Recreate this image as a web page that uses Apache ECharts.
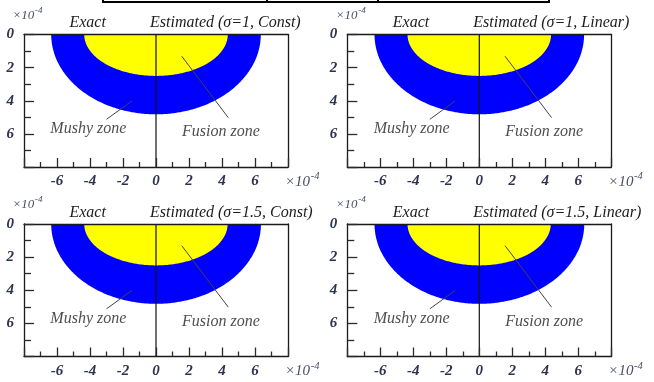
<!DOCTYPE html>
<html>
<head>
<meta charset="utf-8">
<script src="https://cdn.jsdelivr.net/npm/echarts@6/dist/echarts.min.js"></script>
<style>
  html, body { margin: 0; padding: 0; background: #fff; }
  #chart { width: 654px; height: 382px; }
</style>
</head>
<body>
<div id="chart"></div>
<script>
// Tick labels shown on each axis (units of 1e-4 m)
const xTickValues = [-6, -4, -2, 0, 2, 4, 6];
const yTickValues = [0, 2, 4, 6];
const scaleBase = '×10';
const scaleExponent = '-4';

// Panel headings
const leftHeading = 'Exact';
const rightHeadings = [
  'Estimated (σ=1, Const)',
  'Estimated (σ=1, Linear)',
  'Estimated (σ=1.5, Const)',
  'Estimated (σ=1.5, Linear)'
];

// Zone outlines as semi-ellipses: [half-width, depth] in 1e-4 m
const exactFusion = [4.35, 2.5];
const exactMushy = [6.35, 4.82];
const estimatedFusion = [[4.35, 2.5], [4.35, 2.5], [4.34, 2.5], [4.33, 2.5]];
const estimatedMushy = [[6.35, 4.82], [6.35, 4.82], [6.36, 4.82], [6.36, 4.82]];

const zoneNames = ['Mushy zone', 'Fusion zone'];

// ---- layout ----
const PLOT_W = 264, PLOT_H = 132.5;
const origins = [[24, 34.5], [347.3, 34.5], [24, 224], [347.3, 224]];
const FONT = 'Liberation Serif';
const MUSHY_COLOR = '#0000ff';
const FUSION_COLOR = '#ffff00';
const TICK_TEXT = '#2c3350';
const SCALE_TEXT = '#4a4f66';

function halfEllipse(params, api) {
  const a = api.value(0), b = api.value(1), side = api.value(2);
  const pts = [api.coord([0, 0])];
  const N = 120;
  for (let i = 0; i <= N; i++) {
    const t = Math.PI / 2 * i / N;
    pts.push(api.coord([side * a * Math.cos(t), b * Math.sin(t)]));
  }
  return { type: 'polygon', shape: { points: pts }, style: { fill: api.visual('color') } };
}

// "×10" with a raised exponent
function scaleText(x, y, size) {
  return {
    type: 'group', x: x, y: y,
    children: [
      { type: 'text', x: 0, y: 0,
        style: { text: scaleBase, fontFamily: FONT, fontStyle: 'italic', fontSize: size, fill: SCALE_TEXT,
                 align: 'left', verticalAlign: 'middle' } },
      { type: 'text', x: size * 1.72, y: -size * 0.38,
        style: { text: scaleExponent, fontFamily: FONT, fontStyle: 'italic', fontSize: size * 0.7, fill: SCALE_TEXT,
                 align: 'left', verticalAlign: 'middle' } }
    ]
  };
}

const grid = [], xAxis = [], yAxis = [], series = [], graphic = [];

const labelFont = { fontFamily: FONT, fontStyle: 'italic', fontWeight: 'bold', fontSize: 15, color: TICK_TEXT };
const borderLine = { color: '#1a1a1a', width: 1.3 };
const tickLine = { color: '#2a2a2a', width: 1.3 };

origins.forEach(([left, top], p) => {
  grid.push({ left: left, top: top, width: PLOT_W, height: PLOT_H, containLabel: false });
  const xi = xAxis.length, yi = yAxis.length;

  // bottom axis with ticks
  xAxis.push({
    type: 'value', gridIndex: p, min: -8, max: 8, interval: 2, position: 'bottom', z: 5,
    axisLine: { show: true, onZero: false, lineStyle: borderLine },
    axisTick: { show: true, inside: true, length: 9, lineStyle: tickLine },
    minorTick: { show: true, splitNumber: 2, length: 5, lineStyle: tickLine },
    splitLine: { show: false },
    axisLabel: Object.assign({ margin: 7, formatter: v => xTickValues.includes(v) ? String(v) : '' }, labelFont)
  });
  // top border
  xAxis.push({
    type: 'value', gridIndex: p, min: -8, max: 8, position: 'top', z: 5,
    axisLine: { show: true, onZero: false, lineStyle: borderLine },
    axisTick: { show: false }, axisLabel: { show: false }, splitLine: { show: false }
  });
  // left axis with ticks (depth increases downward)
  yAxis.push({
    type: 'value', gridIndex: p, min: 0, max: 8, interval: 2, inverse: true, position: 'left', z: 5,
    axisLine: { show: true, onZero: false, lineStyle: borderLine },
    axisTick: { show: true, inside: true, length: 10, lineStyle: tickLine },
    minorTick: { show: true, splitNumber: 2, length: 7, lineStyle: tickLine },
    splitLine: { show: false },
    axisLabel: Object.assign({ margin: 10, formatter: v => yTickValues.includes(v) ? String(v) : '' }, labelFont)
  });
  // right border
  yAxis.push({
    type: 'value', gridIndex: p, min: 0, max: 8, inverse: true, position: 'right', z: 5,
    axisLine: { show: true, onZero: false, lineStyle: borderLine },
    axisTick: { show: false }, axisLabel: { show: false }, splitLine: { show: false }
  });

  const axes = { xAxisIndex: xi, yAxisIndex: yi };

  // mushy zone (left half exact, right half estimated)
  series.push(Object.assign({
    type: 'custom', renderItem: halfEllipse, itemStyle: { color: MUSHY_COLOR }, z: 1, silent: true,
    data: [[exactMushy[0], exactMushy[1], -1], [estimatedMushy[p][0], estimatedMushy[p][1], 1]]
  }, axes));
  // fusion zone
  series.push(Object.assign({
    type: 'custom', renderItem: halfEllipse, itemStyle: { color: FUSION_COLOR }, z: 2, silent: true,
    data: [[exactFusion[0], exactFusion[1], -1], [estimatedFusion[p][0], estimatedFusion[p][1], 1]]
  }, axes));
  // centre divider between exact and estimated halves
  series.push(Object.assign({
    type: 'line', z: 3, symbol: 'none', silent: true,
    lineStyle: { color: '#111', width: 1.2 },
    data: [[0, 0], [0, 8]]
  }, axes));
  // leader lines to zone labels
  series.push(Object.assign({
    type: 'line', z: 3, symbol: 'none', silent: true,
    lineStyle: { color: '#444', width: 1 },
    data: [[-3.0, 5.12], [-1.47, 4.02]]
  }, axes));
  series.push(Object.assign({
    type: 'line', z: 3, symbol: 'none', silent: true,
    lineStyle: { color: '#444', width: 1 },
    data: [[1.56, 1.31], [4.38, 5.02]]
  }, axes));
  // zone labels
  series.push(Object.assign({
    type: 'scatter', z: 4, symbolSize: 0, silent: true,
    label: {
      show: true, position: 'inside',
      formatter: d => d.data.name,
      fontFamily: FONT, fontStyle: 'italic', fontSize: 16, color: '#222'
    },
    data: [{ name: zoneNames[0], value: [-4.1, 5.72] }, { name: zoneNames[1], value: [3.93, 5.88] }]
  }, axes));

  // headings and scale factors
  graphic.push(scaleText(left - 11.5, top - 19, 13));
  graphic.push({
    type: 'text', x: left + 63.7, y: top - 11.5,
    style: { text: leftHeading, fontFamily: FONT, fontStyle: 'italic', fontSize: 16, fill: '#1c1c1c',
             align: 'center', verticalAlign: 'middle' }
  });
  graphic.push({
    type: 'text', x: left + 126, y: top - 11.5,
    style: { text: rightHeadings[p], fontFamily: FONT, fontStyle: 'italic', fontSize: 16, fill: '#1c1c1c',
             align: 'left', verticalAlign: 'middle' }
  });
  graphic.push(scaleText(left + 261, top + 147.5, 15));
});

// table rule across the top edge
graphic.push({ type: 'line', shape: { x1: 103, y1: 2, x2: 549, y2: 2 }, style: { stroke: '#000', lineWidth: 2 } });
[103, 267, 378, 549].forEach(x => {
  graphic.push({ type: 'line', shape: { x1: x, y1: 0, x2: x, y2: 3 }, style: { stroke: '#000', lineWidth: 2 } });
});

const chart = echarts.init(document.getElementById('chart'), null, { renderer: 'canvas' });
chart.setOption({
  animation: false,
  backgroundColor: '#fff',
  grid, xAxis, yAxis, series, graphic
});
</script>
</body>
</html>
